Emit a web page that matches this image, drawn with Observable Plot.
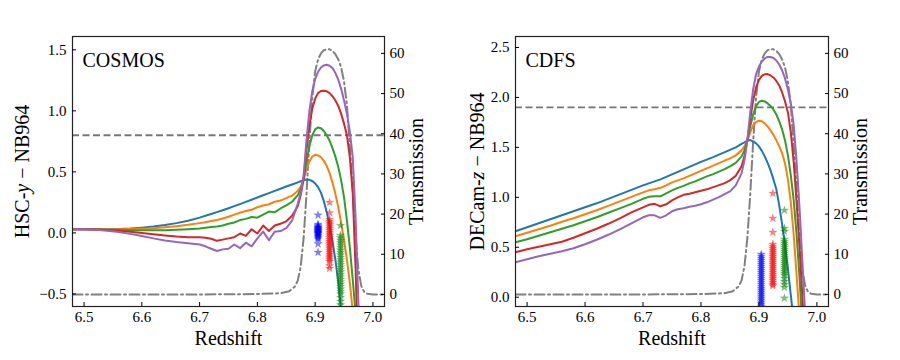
<!DOCTYPE html>
<html><head><meta charset="utf-8">
<script src="https://cdn.jsdelivr.net/npm/d3@7"></script>
<script src="https://cdn.jsdelivr.net/npm/@observablehq/plot@0.6"></script>
<style>
body{margin:0;background:#fff}
#wrap{display:flex;width:900px;height:360px}
</style></head><body><div id="wrap"></div>
<script>
// ---------------- data ----------------
const redshiftGrid = [6.48,6.50,6.52,6.54,6.56,6.58,6.60,6.62,6.64,6.66,6.68,6.70,
  6.71,6.72,6.73,6.74,6.75,6.76,6.77,6.78,6.79,6.80,6.81,6.82,6.83,6.84,6.85,6.86,6.87,
  6.875,6.88,6.885,6.89,6.895,6.90,6.905,6.91,6.915,6.92,6.925,6.93,6.935,6.94,6.945,6.95,6.955,6.96,6.965,6.97,6.975,6.98];

const seriesNames = ["s1","s2","s3","s4","s5"];
const seriesColors = ["#1f77b4","#ff7f0e","#2ca02c","#d62728","#9467bd"];

// COSMOS: HSC-y − NB964
const cosmosS1 = [.03,.03,.03,.03,.032,.036,.043,.052,.064,.08,.10,.125,
  .14,.155,.17,.186,.202,.219,.236,.254,.272,.29,.308,.326,.344,.362,.38,.397,.414,
  .423,.432,.438,.435,.425,.405,.375,.33,.26,.17,.06,-.07,-.22,-.41,-.64,-.9,-1.2,-1.5,-1.8,-2.1,-2.4,-2.7];
const cosmosS2 = [.03,.03,.03,.03,.03,.031,.034,.039,.046,.055,.066,.08,
  .088,.097,.106,.118,.132,.15,.165,.18,.19,.21,.225,.235,.255,.265,.285,.305,.345,
  .38,.44,.52,.585,.625,.64,.635,.62,.59,.55,.49,.41,.32,.21,.08,-.06,-.22,-.41,-.64,-.9,-1.2,-1.5];
const cosmosS3 = [.03,.03,.028,.026,.024,.022,.021,.021,.022,.025,.03,.037,
  .042,.048,.052,.06,.075,.085,.105,.115,.13,.125,.15,.175,.17,.2,.225,.255,.31,
  .36,.44,.58,.71,.8,.848,.864,.858,.835,.80,.755,.695,.625,.54,.43,.29,.1,-.12,-.38,-.66,-.95,-1.3];
const cosmosS4 = [.03,.03,.028,.024,.018,.01,.0,-.012,-.022,-.03,-.035,-.035,
  -.04,-.048,-.065,-.055,-.045,-.035,-.005,-.025,.03,-.005,.06,.015,.06,.075,.095,.14,.22,
  .31,.44,.68,.88,1.02,1.10,1.145,1.162,1.165,1.16,1.145,1.12,1.085,1.04,.975,.895,.8,.62,.33,-.3,-1.1,-2.0];
const cosmosS5 = [.03,.03,.025,.018,.008,-.008,-.025,-.045,-.062,-.075,-.085,-.095,
  -.11,-.13,-.148,-.135,-.13,-.095,-.125,-.08,-.11,-.045,.01,-.06,.01,.015,.04,.1,.24,
  .33,.47,.76,1.0,1.16,1.26,1.32,1.355,1.372,1.377,1.37,1.35,1.31,1.255,1.18,1.085,.975,.83,.62,.12,-.6,-1.4];

// CDFS: DECam-z − NB964
const cdfsS1 = [.66,.70,.74,.78,.82,.86,.90,.94,.985,1.03,1.075,1.12,
  1.14,1.16,1.18,1.205,1.23,1.255,1.28,1.305,1.33,1.355,1.378,1.40,1.425,1.45,1.475,1.50,1.535,
  1.55,1.567,1.573,1.56,1.54,1.51,1.465,1.41,1.345,1.27,1.18,1.08,.92,.73,.52,.28,.02,-.25,-.55,-.85,-1.15,-1.45];
const cdfsS2 = [.61,.645,.68,.715,.755,.79,.83,.87,.915,.96,1.005,1.05,
  1.07,1.08,1.095,1.12,1.15,1.17,1.19,1.215,1.24,1.265,1.29,1.315,1.34,1.365,1.39,1.42,1.47,
  1.51,1.57,1.65,1.72,1.755,1.767,1.762,1.74,1.71,1.67,1.625,1.57,1.51,1.44,1.34,1.18,.95,.62,.22,-.2,-.6,-1.0];
const cdfsS3 = [.55,.58,.615,.65,.685,.72,.76,.80,.845,.89,.935,.985,
  1.005,1.01,1.01,1.04,1.07,1.095,1.115,1.14,1.16,1.185,1.21,1.23,1.255,1.28,1.31,1.345,1.41,
  1.47,1.57,1.71,1.83,1.91,1.955,1.967,1.96,1.94,1.915,1.88,1.83,1.76,1.68,1.57,1.42,1.22,.97,.62,.2,-.3,-.8];
const cdfsS4 = [.45,.48,.505,.53,.555,.595,.64,.685,.735,.79,.85,.9,
  .925,.935,.91,.93,.97,1.0,1.025,1.035,1.05,1.065,1.08,1.10,1.12,1.14,1.17,1.215,1.31,
  1.41,1.57,1.78,1.97,2.1,2.175,2.215,2.232,2.234,2.22,2.2,2.165,2.12,2.05,1.96,1.85,1.65,1.35,.95,.5,.0,-.5];
const cdfsS5 = [.35,.38,.41,.435,.46,.49,.53,.575,.625,.68,.74,.8,
  .82,.82,.795,.82,.86,.88,.89,.905,.915,.93,.95,.975,1.0,1.03,1.06,1.12,1.24,
  1.37,1.57,1.85,2.08,2.23,2.31,2.36,2.39,2.405,2.405,2.395,2.37,2.33,2.27,2.19,2.08,1.94,1.72,1.35,.9,.35,-.2];

// NB964 filter transmission (%)
const transZ = [6.48,6.60,6.70,6.80,6.84,6.855,6.865,6.87,6.875,6.88,6.885,6.89,6.895,6.90,6.905,6.91,6.915,6.92,6.925,6.93,6.935,6.94,6.945,6.95,6.955,6.96,6.965,6.97,6.975,6.98,6.985,6.99,7.00,7.02];
const transT = [0,0,0,0.1,0.3,0.8,2,3.5,7,14,25,38,49,55.5,58.5,60,60.8,61,61,60.6,59.8,58.5,56.5,53,47,37,26,14,6,2,0.6,0.2,0,0];

// Star samples
const starColors = ["blue","red","green"];
const cosmosStarZ = [6.905, 6.925, 6.944];
const cosmosStarsBlue = [0.145,0.07,0.06,0.05,0.045,0.04,0.035,0.03,0.025,0.02,0.015,0.01,0.005,0.0,-0.005,-0.01,-0.02,-0.03,-0.04,-0.05,-0.09,-0.16];
const cosmosStarsRed = [0.25,0.165,0.11,0.095,0.08,0.065,0.05,0.035,0.02,0.005,-0.01,-0.025,-0.04,-0.055,-0.07,-0.085,-0.1,-0.115,-0.13,-0.145,-0.16,-0.175,-0.19,-0.205,-0.22,-0.235,-0.27,-0.29];
const cosmosStarsGreen = [0.06,-0.02,-0.04,-0.06,-0.08,-0.10,-0.12,-0.14,-0.16,-0.18,-0.20,-0.22,-0.24,-0.26,-0.28,-0.30,-0.32,-0.34,-0.36,-0.38,-0.40,-0.42,-0.44,-0.46,-0.48,-0.50,-0.53,-0.56,-0.59];
const cdfsStarZ = [6.904, 6.924, 6.944];
const cdfsStarsBlue = [0.43,0.41,0.39,0.37,0.35,0.33,0.31,0.29,0.27,0.25,0.23,0.21,0.19,0.17,0.15,0.13,0.11,0.09,0.07,0.05,0.03,0.01,-0.01,-0.03,-0.05,-0.07,-0.09];
const cdfsStarsRed = [1.04,0.79,0.65,0.53,0.51,0.49,0.47,0.45,0.43,0.41,0.39,0.37,0.35,0.33,0.31,0.29,0.27,0.25,0.23,0.21,0.19,0.17,0.15,0.13,0.115];
const cdfsStarsGreen = [0.87,0.69,0.66,0.58,0.56,0.54,0.52,0.50,0.48,0.46,0.44,0.42,0.40,0.38,0.36,0.34,0.32,0.30,0.28,0.26,0.24,0.22,0.19,0.16,0.13,0.10,-0.01];

const xTicks = [6.5,6.6,6.7,6.8,6.9,7.0];
const transTicks = [0,10,20,30,40,50,60];
const transDomain = [-3, 64.2];

// ---------------- drawing ----------------
const FONT = "'Liberation Serif', 'DejaVu Serif', serif";

function panel(cfg) {
  const tr = d3.scaleLinear().domain(transDomain).range(cfg.yDomain);
  const curves = [];
  cfg.series.forEach((vals, i) => vals.forEach((v, j) => curves.push({z: redshiftGrid[j], v, s: seriesNames[i]})));
  const trans = transZ.map((z, i) => ({z, t: transT[i]}));
  const stars = [];
  cfg.stars.forEach((vals, i) => vals.forEach(v => stars.push({z: cfg.starZ[i], v, c: starColors[i]})));

  const svg = Plot.plot({
    width: 450, height: 360,
    marginLeft: cfg.ml, marginRight: cfg.mr, marginTop: 36, marginBottom: 54,
    style: {fontFamily: FONT, fontSize: "15px", color: "#000", background: "#fff", overflow: "visible"},
    x: {domain: [6.48, 7.02]},
    y: {domain: cfg.yDomain},
    color: {domain: seriesNames, range: seriesColors},
    marks: [
      Plot.ruleY([cfg.threshold], {stroke: "#777", strokeWidth: 1.8, strokeDasharray: "7,3.5"}),
      Plot.line(trans, {x: "z", y: d => tr(d.t), stroke: "#808080", strokeWidth: 2, strokeDasharray: "10,3.5,2,3.5", clip: true}),
      Plot.line(curves, {x: "z", y: "v", z: "s", stroke: "s", strokeWidth: 2, clip: true}),
      Plot.dot(stars, {x: "z", y: "v", symbol: "star", r: 2.6, fill: "c", fillOpacity: 0.5, stroke: "c", strokeOpacity: 0.3, strokeWidth: 0.5, clip: true}),
      Plot.frame({stroke: "#222", strokeWidth: 1.2}),
      Plot.axisX({ticks: xTicks, tickFormat: d3.format(".1f"), tickSize: -4, tickPadding: 9,
        label: "Redshift", labelAnchor: "center", labelArrow: "none", labelOffset: 38}),
      Plot.axisY({anchor: "left", ticks: cfg.yTicks, tickFormat: d3.format(".1f"), tickSize: -4, tickPadding: 10,
        label: cfg.yLabel, labelAnchor: "center", labelArrow: "none", labelOffset: cfg.ylo}),
      Plot.axisY({anchor: "right", ticks: transTicks.map(tr), tickFormat: d => String(Math.round(tr.invert(d))), tickSize: -4, tickPadding: 9,
        label: "Transmission", labelAnchor: "center", labelArrow: "none", labelOffset: 38}),
      Plot.text([cfg.name], {frameAnchor: "top-left", dx: 10, dy: 16, fontSize: 20, textAnchor: "start", fill: "#000"})
    ]
  });
  d3.select(svg).selectAll('g[aria-label="x-axis label"] text, g[aria-label="y-axis label"] text')
    .style("font-size", "20px").style("font-family", FONT).style("font-weight", "normal");
  d3.select(svg).selectAll('g[aria-label="y-axis label"] text').each(function() {
    const t = d3.select(this);
    const s = t.text();
    if (s.startsWith(cfg.labelPrefix)) {
      t.text(null);
      t.append("tspan").text(cfg.labelPrefix);
      t.append("tspan").style("font-style", "italic").text(cfg.labelVar);
      t.append("tspan").text(" − NB964");
    }
  });
  return svg;
}

const wrap = document.getElementById("wrap");
wrap.appendChild(panel({
  name: "COSMOS", yDomain: [-0.603, 1.609], yTicks: [-0.5, 0, 0.5, 1.0, 1.5], threshold: 0.8,
  ml: 72, mr: 66, ylo: 58,
  yLabel: "HSC-y − NB964", labelPrefix: "HSC-", labelVar: "y",
  series: [cosmosS1, cosmosS2, cosmosS3, cosmosS4, cosmosS5],
  starZ: cosmosStarZ, stars: [cosmosStarsBlue, cosmosStarsRed, cosmosStarsGreen]
}));
wrap.appendChild(panel({
  name: "CDFS", yDomain: [-0.093, 2.61], yTicks: [0, 0.5, 1.0, 1.5, 2.0, 2.5], threshold: 1.9,
  ml: 65, mr: 72, ylo: 46,
  yLabel: "DECam-z − NB964", labelPrefix: "DECam-", labelVar: "z",
  series: [cdfsS1, cdfsS2, cdfsS3, cdfsS4, cdfsS5],
  starZ: cdfsStarZ, stars: [cdfsStarsBlue, cdfsStarsRed, cdfsStarsGreen]
}));
</script></body></html>
